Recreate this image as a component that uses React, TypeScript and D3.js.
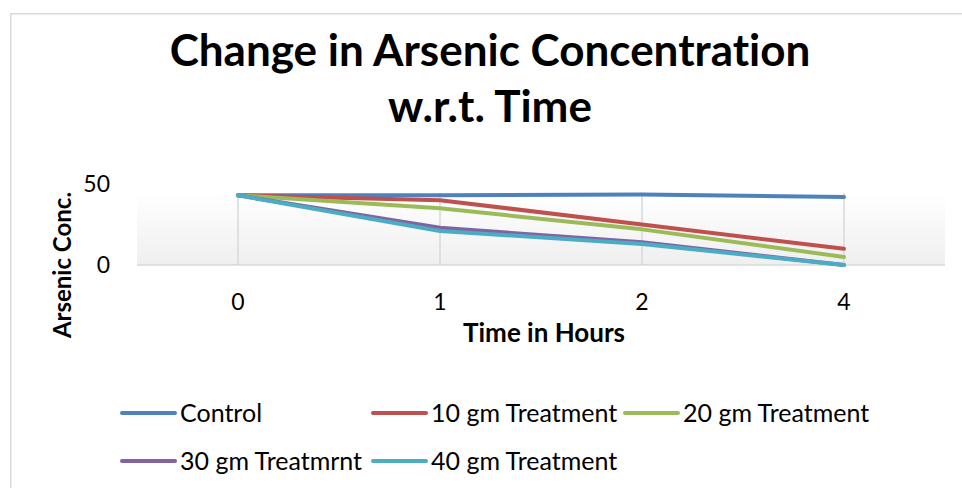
import React from "react";
import * as d3 from "d3";

const categories = ["0", "1", "2", "4"];
const seriesNames = ["Control", "10 gm Treatment", "20 gm Treatment", "30 gm Treatmrnt", "40 gm Treatment"];
const control = [43, 43, 43.5, 42];
const t10 = [43, 40, 25, 10];
const t20 = [43, 35, 22, 5];
const t30 = [43, 23, 14, 0];
const t40 = [43, 21, 13, 0];
const colors = ["#4f81bd", "#c0504d", "#9bbb59", "#8064a2", "#4bacc6"];
const yTicks = [0, 50];

const W = 962;
const H = 488;
const FONT = "Lato, 'Open Sans', sans-serif";

export default function App() {
  const values = [control, t10, t20, t30, t40];
  const x = d3.scalePoint<string>().domain(categories).range([137, 945]).padding(0.5);
  const y = d3.scaleLinear().domain([0, 50]).range([265, 184]);
  const plotTop = 193;
  const line = d3
    .line<number>()
    .x((_, i) => x(categories[i]) as number)
    .y((d) => y(d));

  const legendItems = [
    { i: 0, lx: 122, ty: 413 },
    { i: 1, lx: 373, ty: 413 },
    { i: 2, lx: 625, ty: 413 },
    { i: 3, lx: 122, ty: 461 },
    { i: 4, lx: 373, ty: 461 },
  ];

  return (
    <svg
      width={W}
      height={H}
      style={{ position: "absolute", left: 0, top: 0, background: "#fff", fontVariantLigatures: "none" }}
      fontFamily={FONT}
    >
      <defs>
        <linearGradient id="bg" x1="0" y1="0" x2="0" y2="1">
          <stop offset="0" stopColor="#ffffff" />
          <stop offset="1" stopColor="#efefef" />
        </linearGradient>
      </defs>
      <rect x={0} y={0} width={W} height={H} fill="#fff" />
      <rect x={10.75} y={13.75} width={W + 20} height={H + 20} fill="none" stroke="#d9d9d9" strokeWidth={1.5} />

      <text x={490} y={66} textAnchor="middle" fontSize={44} fontWeight="bold" fill="#000">
        Change in Arsenic Concentration
      </text>
      <text x={490} y={122} textAnchor="middle" fontSize={44} fontWeight="bold" fill="#000">
        w.r.t. Time
      </text>

      <rect x={x.range()[0]} y={plotTop} width={x.range()[1] - x.range()[0]} height={y(0) - plotTop} fill="url(#bg)" />
      {categories.map((c) => (
        <line key={c} x1={x(c)} x2={x(c)} y1={plotTop} y2={y(0)} stroke="#d9d9d9" strokeWidth={1.5} />
      ))}
      <line x1={x.range()[0]} x2={x.range()[1]} y1={y(0)} y2={y(0)} stroke="#d9d9d9" strokeWidth={1.5} />

      {yTicks.map((t) => (
        <text key={t} x={110} y={y(t)} dy="0.35em" textAnchor="end" fontSize={23} fill="#000">
          {t}
        </text>
      ))}
      {categories.map((c) => (
        <text key={c} x={x(c)} y={302} dy="0.35em" textAnchor="middle" fontSize={23} fill="#000">
          {c}
        </text>
      ))}

      <text x={544} y={342} textAnchor="middle" fontSize={26} fontWeight="bold" fill="#000">
        Time in Hours
      </text>
      <text
        transform={`translate(71, 265) rotate(-90)`}
        textAnchor="middle"
        fontSize={24}
        fontWeight="bold"
        fill="#000"
      >
        Arsenic Conc.
      </text>

      {values.map((v, i) => (
        <path
          key={seriesNames[i]}
          d={line(v) as string}
          fill="none"
          stroke={colors[i]}
          strokeWidth={4}
          strokeLinecap="round"
          strokeLinejoin="round"
        />
      ))}

      {legendItems.map(({ i, lx, ty }) => (
        <g key={seriesNames[i]}>
          <line x1={lx} x2={lx + 53} y1={ty} y2={ty} stroke={colors[i]} strokeWidth={4} strokeLinecap="round" />
          <text x={lx + 58} y={ty} dy="0.35em" fontSize={25} fill="#000">
            {seriesNames[i]}
          </text>
        </g>
      ))}
    </svg>
  );
}
